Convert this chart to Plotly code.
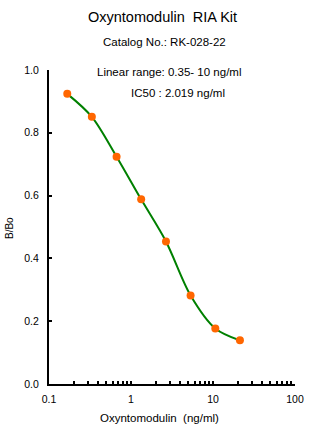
import plotly.graph_objects as go

conc = [0.167, 0.333, 0.667, 1.33, 2.67, 5.33, 10.67, 21.3]
bbo = [0.924, 0.851, 0.724, 0.588, 0.454, 0.282, 0.177, 0.139]

major_ticks = [0.1, 1, 10, 100]
major_labels = ["0.1", "1", "10", "100"]
y_ticks = [0.0, 0.2, 0.4, 0.6, 0.8, 1.0]

title_text = "Oxyntomodulin  RIA Kit"
catalog_text = "Catalog No.: RK-028-22"
linear_text = "Linear range: 0.35- 10 ng/ml"
ic50_text = "IC50 : 2.019 ng/ml"
x_title = "Oxyntomodulin  (ng/ml)"
y_title = "B/Bo"

FONT = "Liberation Sans, Arial, sans-serif"

# tick values incl. minor log ticks
tickvals, ticktext = [], []
for d in [0.1, 1, 10]:
    for m in range(1, 10):
        v = round(d * m, 6)
        tickvals.append(v)
        ticktext.append(major_labels[major_ticks.index(v)] if v in major_ticks else "")
tickvals.append(100)
ticktext.append("100")

fig = go.Figure()
fig.add_trace(go.Scatter(x=conc, y=bbo, mode="lines",
                         line=dict(color="#008000", width=2, shape="spline", smoothing=0.9),
                         hoverinfo="skip", showlegend=False))
fig.add_trace(go.Scatter(x=conc, y=bbo, mode="markers",
                         marker=dict(color="#FF6600", size=8),
                         showlegend=False))

L, R, T, B = 49, 35, 70, 51
W, H = 330, 435
pw, ph = W - L - R, H - T - B

def px(x):
    return (x - L) / pw

def py(y):
    return (H - B - y) / ph

fig.update_layout(
    width=W, height=H,
    margin=dict(l=L, r=R, t=T, b=B, pad=0),
    paper_bgcolor="white", plot_bgcolor="white",
    font=dict(family=FONT, color="black"),
    xaxis=dict(type="log", range=[-1, 2], showline=True, linecolor="black", linewidth=2,
               showgrid=False, zeroline=False, ticks="inside", ticklen=3, tickwidth=2,
               tickcolor="black", tickvals=tickvals, ticktext=ticktext,
               tickfont=dict(size=10.5, family=FONT), ticklabelstandoff=4),
    yaxis=dict(range=[0, 1], showline=True, linecolor="black", linewidth=2,
               showgrid=False, zeroline=False, ticks="inside", ticklen=3, tickwidth=2,
               tickcolor="black", tickvals=y_ticks, tickformat=".1f",
               tickfont=dict(size=10.5, family=FONT), ticklabelstandoff=6),
    annotations=[
        dict(text=title_text, x=px(162), y=py(17), xref="paper", yref="paper",
             showarrow=False, font=dict(size=14.5, family=FONT), xanchor="center", yanchor="middle"),
        dict(text=catalog_text, x=px(164.7), y=py(42), xref="paper", yref="paper",
             showarrow=False, font=dict(size=11.5, family=FONT), xanchor="center", yanchor="middle"),
        dict(text=linear_text, x=px(168.7), y=py(72), xref="paper", yref="paper",
             showarrow=False, font=dict(size=11.5, family=FONT), xanchor="center", yanchor="middle"),
        dict(text=ic50_text, x=px(178.3), y=py(93), xref="paper", yref="paper",
             showarrow=False, font=dict(size=11.5, family=FONT), xanchor="center", yanchor="middle"),
        dict(text=x_title, x=px(159.5), y=py(418), xref="paper", yref="paper",
             showarrow=False, font=dict(size=11.5, family=FONT), xanchor="center", yanchor="middle"),
        dict(text=y_title, x=px(9), y=py(228), xref="paper", yref="paper", textangle=-90,
             showarrow=False, font=dict(size=10, family=FONT), xanchor="center", yanchor="middle"),
    ],
)

fig.write_html("out.html")
